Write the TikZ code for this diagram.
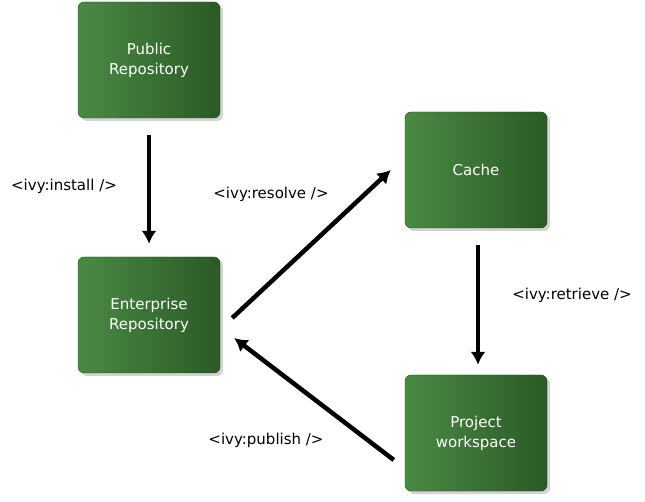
\documentclass[tikz,border=0pt]{standalone}
\usepackage{fontspec}
\setmainfont{DejaVu Sans}
\usetikzlibrary{shadows,arrows.meta}
\definecolor{gl}{HTML}{4A8A44}
\definecolor{gd}{HTML}{2A5A25}
\begin{document}
\begin{tikzpicture}[x=1pt,y=-1pt,
  box/.style={rounded corners=6pt,minimum width=142pt,minimum height=116pt,
    shading angle=45,left color=gl,right color=gd,
    draw=gd!80!black,text=white,align=center,font=\fontsize{15}{20}\selectfont,
    drop shadow={shadow xshift=3pt,shadow yshift=-3pt,opacity=0.35}},
  conn/.style={line width=4.5pt,-{Latex[length=13pt,width=15pt]}},
  lbl/.style={font=\fontsize{15}{18}\selectfont,text=black}]
\useasboundingbox (0,0) rectangle (645,502);
\node[box] (pub) at (149,60) {Public\\Repository};
\node[box] (ent) at (149,315) {Enterprise\\Repository};
\node[box] (cache) at (476,170) {Cache};
\node[box] (proj) at (476,433) {Project\\workspace};
\draw[conn] ([yshift=-17pt]pub.south) -- ([yshift=13pt]ent.north);
\draw[conn] ([shift={(12pt,-3pt)}]ent.east) -- ([shift={(-14pt,0pt)}]cache.west);
\draw[conn] ([shift={(2pt,-17pt)}]cache.south) -- ([shift={(2pt,10pt)}]proj.north);
\draw[conn] ([shift={(-11pt,-27pt)}]proj.west) -- ([shift={(14pt,-23pt)}]ent.east);
\node[lbl] (l1) at (64,186) {<ivy:install />};
\node[lbl] (l2) at (271,194) {<ivy:resolve />};
\node[lbl] (l3) at (572,295) {<ivy:retrieve />};
\node[lbl] (l4) at (266,440) {<ivy:publish />};
\end{tikzpicture}
\end{document}
